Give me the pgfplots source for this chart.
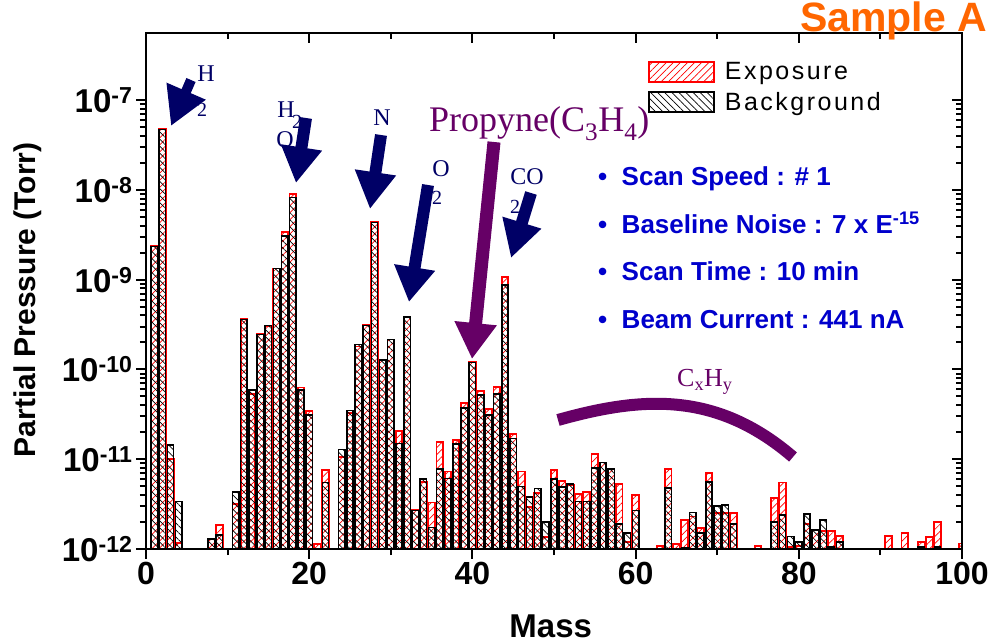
\documentclass[border=0pt]{standalone}
\usepackage{fontspec}
\setmainfont{Liberation Sans}
\newfontfamily\tms{Liberation Serif}
\newfontfamily\lsp[LetterSpace=10]{Liberation Sans}
\usepackage{pgfplots}
\pgfplotsset{compat=1.18}
\usetikzlibrary{patterns.meta,arrows.meta}
\definecolor{navy}{RGB}{0,0,102}
\definecolor{purp}{RGB}{102,0,102}
\definecolor{bluet}{RGB}{0,0,204}
\definecolor{orng}{RGB}{255,102,0}
\tikzset{
  expstyle/.style={draw=red, line width=1.8pt, pattern={Lines[angle=45,distance=5pt,line width=0.7pt]}, pattern color=red},
  bgstyle/.style={draw=black, line width=1.5pt, pattern={Lines[angle=-45,distance=5pt,line width=0.7pt]}, pattern color=black},
}
\begin{document}
\begin{tikzpicture}
\begin{axis}[
  at={(0,0)}, anchor=south west,
  scale only axis, width=816pt, height=516pt,
  xmin=0, xmax=100, ymode=log, ymin=1e-12, ymax=5.6e-7,
  log origin=infty,
  axis line style={line width=2.4pt},
  every tick/.style={black, line width=2pt},
  major tick length=10pt, minor tick length=6pt,
  tick align=outside, xtick pos=left, ytick pos=left,
  xtick={0,20,40,60,80,100}, xticklabels={0,20,40,60,80,100}, minor x tick num=1,
  ytick={1e-12,1e-11,1e-10,1e-9,1e-8,1e-7},
  yticklabels={10\textsuperscript{-12},10\textsuperscript{-11},10\textsuperscript{-10},10\textsuperscript{-9},10\textsuperscript{-8},10\textsuperscript{-7}},
  xticklabel style={font=\bfseries\fontsize{32}{32}\selectfont},
  yticklabel style={font=\bfseries\fontsize{33}{33}\selectfont},
  xlabel={Mass}, ylabel={Partial Pressure (Torr)},
  every axis x label/.style={at={(axis description cs:0.496,-0.150)}, anchor=center, font=\bfseries\fontsize{33}{33}\selectfont},
  every axis y label/.style={at={(axis description cs:-0.145,0.483)}, anchor=center, rotate=90, font=\bfseries\fontsize{30}{30}\selectfont},
  legend style={draw=none, fill=none, at={(0.615,0.947)}, anchor=north west, font=\lsp\fontsize{25}{25}\selectfont, row sep=7pt, column sep=8pt, inner sep=0pt, legend cell align=left},
]
\addplot[ybar, bar shift=0pt, bar width=6.6pt, expstyle,
  legend image code/.code={\draw[expstyle] (0pt,-10pt) rectangle (65pt,10pt);}]
coordinates {
(1,2.35e-9) (2,4.8e-8) (3,1.0e-11) (4,1.17e-12) (8,1.3e-12) (9,1.85e-12)
(11,3.2e-12) (12,3.7e-10) (13,5.3e-11) (14,2.46e-10) (15,3.07e-10) (16,1.33e-9)
(17,3.4e-9) (18,9.1e-9) (19,6.3e-11) (20,3.47e-11) (21,1.13e-12) (22,7.6e-12)
(24,1.07e-11) (25,3.3e-11) (26,1.8e-10) (27,3.1e-10) (28,4.35e-9) (29,1.27e-10)
(30,2.16e-10) (31,2.06e-11) (32,3.86e-10) (33,2.7e-12) (34,5.6e-12) (35,3.3e-12)
(36,1.57e-11) (37,7.3e-12) (38,1.64e-11) (39,4.26e-11) (40,1.2e-10) (41,5.7e-11)
(42,3.6e-11) (43,6.4e-11) (44,1.08e-9) (45,1.9e-11) (46,7.3e-12) (47,2.95e-12)
(48,4.2e-12) (49,1.37e-12) (50,7.6e-12) (51,5.7e-12) (52,5.2e-12) (53,4.1e-12)
(54,4.3e-12) (55,1.14e-11) (56,9.2e-12) (57,7.9e-12) (58,5.3e-12) (59,1.2e-12)
(60,4.0e-12) (63,1.08e-12) (64,7.8e-12) (65,1.13e-12) (66,2.1e-12) (67,2.3e-12)
(68,1.73e-12) (69,7.1e-12) (70,2.5e-12) (71,2.5e-12) (72,2.5e-12) (75,1.08e-12)
(77,3.7e-12) (78,5.5e-12) (79,1.05e-12) (80,1.08e-12) (81,1.9e-12) (82,1.63e-12)
(83,1.6e-12) (84,1.6e-12) (85,1.4e-12) (91,1.4e-12) (93,1.5e-12) (95,1.2e-12)
(96,1.37e-12) (97,2.0e-12) (100,1.15e-12)
};
\addlegendentry{Exposure}
\addplot[ybar, bar shift=0pt, bar width=6.4pt, bgstyle,
  legend image code/.code={\draw[bgstyle] (0pt,-10pt) rectangle (65pt,10pt);}]
coordinates {
(1,2.35e-9) (2,4.7e-8) (3,1.44e-11) (4,3.4e-12) (8,1.3e-12) (9,1.43e-12)
(11,4.3e-12) (12,3.6e-10) (13,5.9e-11) (14,2.46e-10) (15,3.07e-10) (16,1.33e-9)
(17,3.06e-9) (18,8.2e-9) (19,5.9e-11) (20,3.1e-11) (22,5.5e-12)
(24,1.29e-11) (25,3.5e-11) (26,1.9e-10) (27,3.1e-10) (28,4.35e-9) (29,1.27e-10)
(30,2.16e-10) (31,1.5e-11) (32,3.86e-10) (33,2.7e-12) (34,6.0e-12) (35,1.74e-12)
(36,7.8e-12) (37,6.1e-12) (38,1.47e-11) (39,3.7e-11) (40,1.19e-10) (41,5.2e-11)
(42,3.1e-11) (43,5.3e-11) (44,8.7e-10) (45,1.7e-11) (46,5.0e-12) (47,3.8e-12)
(48,4.7e-12) (49,2.0e-12) (50,6.0e-12) (51,4.9e-12) (52,5.3e-12) (53,3.4e-12)
(54,3.4e-12) (55,8.0e-12) (56,9.2e-12) (57,7.8e-12) (58,1.9e-12) (59,1.5e-12)
(60,2.7e-12) (64,4.8e-12) (66,1.04e-12) (67,2.56e-12) (68,1.5e-12) (69,5.6e-12)
(70,3.0e-12) (71,3.1e-12) (72,1.9e-12) (77,2.0e-12) (78,2.4e-12) (79,1.37e-12)
(80,1.2e-12) (81,2.45e-12) (82,1.63e-12) (83,2.1e-12) (84,1.05e-12) (85,1.2e-12)
(95,1.05e-12) (97,1.05e-12)
};
\addlegendentry{Background}
\end{axis}
\begin{axis}[
  at={(0,0)}, anchor=south west,
  scale only axis, width=816pt, height=516pt,
  xmin=0, xmax=100, ymode=log, ymin=1e-12, ymax=5.6e-7,
  axis line style={line width=2.4pt},
  every tick/.style={black, line width=2pt},
  major tick length=10pt, minor tick length=6pt,
  tick align=inside, xtick pos=right, ytick pos=right,
  xtick={0,20,40,60,80,100}, minor x tick num=1,
  ytick={1e-12,1e-11,1e-10,1e-9,1e-8,1e-7},
  xticklabels={}, yticklabels={},
]
\end{axis}
\begin{scope}[x=1pt, y=-1pt, shift={(-146,-549)}]
  % labels of the gases
  \node[navy, font=\tms\fontsize{24}{24}\selectfont] at (206,74) {H};
  \node[navy, font=\tms\fontsize{20}{20}\selectfont] at (202,110) {2};
  \node[navy, font=\tms\fontsize{24}{24}\selectfont] at (286,110) {H};
  \node[navy, font=\tms\fontsize{20}{20}\selectfont] at (297,122) {2};
  \node[navy, font=\tms\fontsize{24}{24}\selectfont] at (285,140) {O};
  \node[navy, font=\tms\fontsize{24}{24}\selectfont] at (382,118) {N};
  \node[navy, font=\tms\fontsize{24}{24}\selectfont] at (441,169) {O};
  \node[navy, font=\tms\fontsize{20}{20}\selectfont] at (437,198) {2};
  \node[navy, font=\tms\fontsize{24}{24}\selectfont] at (527,177) {CO};
  \node[navy, font=\tms\fontsize{20}{20}\selectfont] at (515,207) {2};
  % arrows
  \draw[navy, line width=10pt, -{Triangle[width=40pt,length=38pt]}] (191,80) -- (171,126);
  \draw[navy, line width=12pt, -{Triangle[width=39pt,length=36pt]}] (306,118) -- (296,183);
  \draw[navy, line width=12pt, -{Triangle[width=39pt,length=37pt]}] (381,135) -- (370,209);
  \draw[navy, line width=12pt, -{Triangle[width=39pt,length=35pt]}] (428,185) -- (409,302);
  \draw[navy, line width=12pt, -{Triangle[width=38pt,length=37pt]}] (531,193) -- (511,258);
  \draw[purp, line width=13pt, -{Triangle[width=40pt,length=36pt]}] (494,142) -- (472,359);
  \node[purp, anchor=base west, inner sep=0pt, font=\tms\fontsize{36}{36}\selectfont] at (429,132) {Propyne(C\textsubscript{3}H\textsubscript{4})};
  \draw[purp, line width=12pt] (558,420) .. controls (640,397) and (715,390) .. (793,457);
  \node[purp, anchor=base west, inner sep=0pt, font=\tms\fontsize{26}{26}\selectfont] at (677,387) {C\textsubscript{x}H\textsubscript{y}};
  % info text
  \begin{scope}[every node/.style={bluet, anchor=base west, inner sep=0pt, font=\bfseries\fontsize{26}{26}\selectfont}]
    \node at (598,186) {\textbullet\ \ Scan Speed : \# 1};
    \node at (598,234) {\textbullet\ \ Baseline Noise : 7 x E\textsuperscript{-15}};
    \node at (598,281) {\textbullet\ \ Scan Time : 10 min};
    \node at (598,329) {\textbullet\ \ Beam Current : 441 nA};
  \end{scope}
  \node[orng, anchor=base west, inner sep=0pt, font=\bfseries\fontsize{41}{41}\selectfont] at (800,32) {Sample A};
\end{scope}
\pgfresetboundingbox
\path[use as bounding box] (-146pt,-95pt) rectangle (846pt,549pt);
\end{tikzpicture}
\end{document}
